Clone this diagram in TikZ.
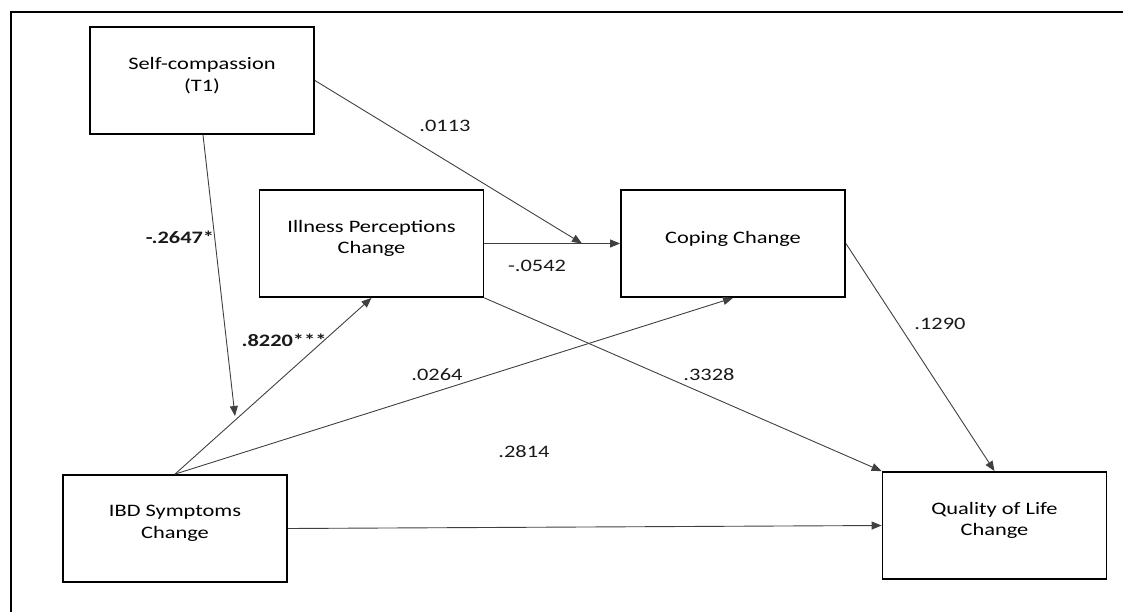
\documentclass[tikz,border=0pt]{standalone}
\usepackage{fontspec}
\setmainfont{Carlito}[FakeStretch=1.28]
\usetikzlibrary{arrows.meta}
\begin{document}
\begin{tikzpicture}[x=1pt,y=-1pt,
  box/.style={draw=black,line width=1.8pt,minimum width=224pt,minimum height=107pt,inner sep=0pt},
  lbl/.style={font=\fontsize{17.5}{21.5}\selectfont,align=center,yshift=5pt,inner sep=0pt},
  conn/.style={draw=black!75,line width=0.9pt,-{Triangle[length=10pt,width=8pt]}},
  coef/.style={font=\fontsize{17.5}{21.5}\selectfont,inner sep=0pt,text=black!90},
  bcoef/.style={coef,font=\fontsize{17.5}{21.5}\selectfont\bfseries}]
\useasboundingbox (0,0) rectangle (1123,612);
\clip (0,0) rectangle (1123,612);
\draw[line width=1.8pt] (11,12) rectangle (1150,650);

\node[box,label={[lbl]center:Self-compassion\\(T1)}] (sc) at (202,80.5) {};
\node[box,label={[lbl]center:Illness Perceptions\\Change}] (ip) at (371.5,243.5) {};
\node[box,label={[lbl]center:Coping Change}] (cop) at (733,243.5) {};
\node[box,label={[lbl]center:IBD Symptoms\\Change}] (ibd) at (175,528.5) {};
\node[box,label={[lbl]center:Quality of Life\\Change}] (qol) at (994.5,525.5) {};

\coordinate (m1) at (582,243.5);
\coordinate (m2) at (235,416);

\draw[conn] (sc.east) -- (m1);
\draw[conn] (ip.east) -- (cop.west);
\draw[conn] (sc.south) ++(1,0) -- (m2);
\draw[conn] (ibd.north) -- (ip.south);
\draw[conn] (ibd.north) -- (cop.south);
\draw[conn] (ip.south east) -- (qol.north west);
\draw[conn] (cop.east) -- (qol.north);
\draw[conn] (ibd.east) -- (qol.west);

\node[coef] (c1) at (445,126) {.0113};
\node[bcoef] (c2) at (180,237) {-.2647*};
\node[bcoef] (c3) at (284,340) {.8220***};
\node[coef] (c4) at (437,375) {.0264};
\node[coef] (c5) at (709,375) {.3328};
\node[coef] (c6) at (537,266) {-.0542};
\node[coef] (c7) at (940,324) {.1290};
\node[coef] (c8) at (524,452) {.2814};
\end{tikzpicture}
\end{document}
